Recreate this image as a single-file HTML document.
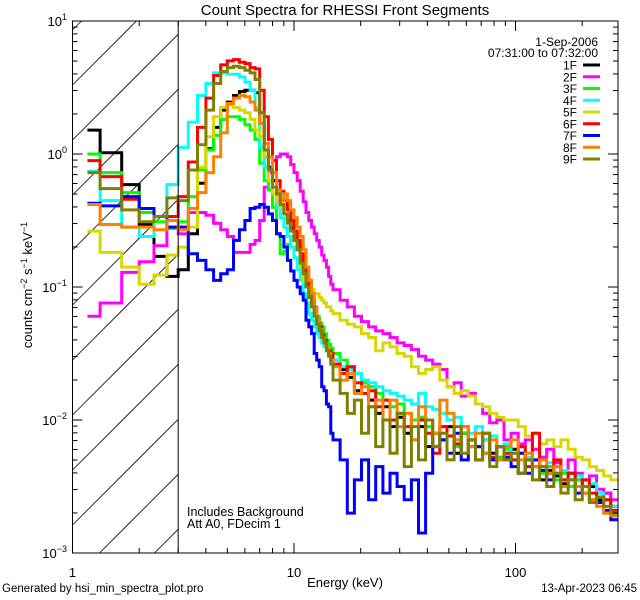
<!DOCTYPE html>
<html><head><meta charset="utf-8">
<style>
html,body{margin:0;padding:0;background:#fff;width:640px;height:600px;overflow:hidden;}
svg{display:block;font-family:"Liberation Sans",sans-serif;overflow:hidden;}
text{fill:#000;}
</style></head>
<body>
<svg id="chart" width="640" height="600" viewBox="0 0 640 600">
<rect x="0" y="0" width="640" height="600" fill="#fff"/>
<text x="345" y="15" font-size="15" text-anchor="middle">Count Spectra for RHESSI Front Segments</text>
<g id="hatch"></g>
<g id="series"></g>
<g id="axes"></g>
<text x="32" y="285" font-size="13" text-anchor="middle" transform="rotate(-90 32 285)">counts cm<tspan dy="-5" font-size="9">−2</tspan><tspan dy="5"> s</tspan><tspan dy="-5" font-size="9">−1</tspan><tspan dy="5"> keV</tspan><tspan dy="-5" font-size="9">−1</tspan></text>
<text x="345" y="587" font-size="13" text-anchor="middle">Energy (keV)</text>
<text x="2" y="592" font-size="11.5">Generated by hsi_min_spectra_plot.pro</text>
<text x="637" y="592" font-size="11.5" text-anchor="end">13-Apr-2023 06:45</text>
<text x="187" y="516" font-size="12.5">Includes Background</text>
<text x="187" y="528" font-size="12.5">Att A0, FDecim 1</text>
<text x="598" y="46" font-size="12" text-anchor="end">1-Sep-2006</text>
<text x="598" y="57" font-size="12" text-anchor="end">07:31:00 to 07:32:00</text>
<g id="legend"></g>
</svg>
<script>
// ---- data (log10 of counts cm^-2 s^-1 keV^-1) ----
const segments = ["1F","2F","3F","4F","5F","6F","7F","8F","9F"];
const colors = ["#000000","#ff00ff","#00ff00","#00ffff","#d8d800","#ff0000","#0000ff","#ff8000","#808000"];
const lowEdges = [1.167,1.333,1.667,2,2.333,2.667,3];
const midStart = 3, midEnd = 15, midStep = 1/3;
const highStart = 15, highEnd = 290, highBins = 40;

const log1F = [0.18,0.01,-0.23,-0.53,-0.77,-0.92,
 -0.87,-0.6,-0.22,0.04,0.2,0.33,0.39,0.44,0.47,0.48,0.48,0.46,
 0.23,0.03,-0.1,-0.2,-0.3,-0.38,-0.45,-0.5,-0.56,-0.62,-0.68,-0.76,-0.85,-0.93,-1.0,-1.08,-1.16,-1.24,-1.3,-1.35,-1.4,-1.45,-1.5,-1.55,
 -1.55,-1.62,-1.68,-1.78,-1.72,-1.85,-1.95,-1.9,-2.05,-1.98,-2.1,-2.0,-2.05,-2.2,-2.1,-2.15,-2.05,-2.25,-2.1,-2.2,-2.3,-2.15,-2.25,-2.2,-2.28,-2.22,-2.4,-2.3,-2.35,-2.45,-2.38,-2.42,-2.48,-2.4,-2.45,-2.55,-2.5,-2.6,-2.55,-2.65];
const log2F = [-1.22,-1.12,-0.89,-0.81,-0.69,-0.55,
 -0.6,-0.44,-0.44,-0.46,-0.52,-0.57,-0.62,-0.74,-0.74,-0.74,-0.68,-0.65,
 -0.5,-0.25,-0.14,-0.05,-0.02,0.0,0.0,-0.02,-0.08,-0.14,-0.2,-0.28,-0.36,-0.44,-0.5,-0.55,-0.6,-0.65,-0.7,-0.76,-0.8,-0.85,-0.92,-0.98,
 -1.02,-1.1,-1.15,-1.22,-1.26,-1.3,-1.33,-1.35,-1.38,-1.42,-1.44,-1.47,-1.52,-1.55,-1.58,-1.62,-1.75,-1.72,-1.82,-1.8,-1.88,-1.95,-2.02,-2.0,-2.15,-2.1,-2.18,-2.15,-2.22,-2.28,-2.22,-2.32,-2.38,-2.3,-2.4,-2.45,-2.42,-2.52,-2.55,-2.6];
const log3F = [0.0,-0.14,-0.29,-0.44,-0.51,-0.56,
 -0.51,-0.32,-0.12,0.03,0.14,0.26,0.28,0.28,0.26,0.22,0.18,0.11,
 -0.07,-0.2,-0.27,-0.4,-0.6,-0.75,-0.73,-0.68,-0.62,-0.65,-0.7,-0.78,-0.86,-0.95,-1.02,-1.1,-1.17,-1.22,-1.27,-1.3,-1.35,-1.4,-1.43,-1.46,
 -1.5,-1.55,-1.6,-1.65,-1.72,-1.75,-1.8,-1.85,-1.9,-1.88,-1.95,-2.0,-1.98,-2.05,-2.1,-2.05,-2.12,-2.2,-2.1,-2.15,-2.2,-2.25,-2.15,-2.28,-2.22,-2.3,-2.25,-2.35,-2.3,-2.4,-2.35,-2.45,-2.4,-2.5,-2.45,-2.55,-2.6,-2.58,-2.7,-2.72];
const log4F = [-0.13,-0.35,-0.55,-0.62,-0.47,-0.23,
 0.05,0.24,0.44,0.53,0.61,0.61,0.6,0.6,0.58,0.54,0.48,0.35,
 0.05,-0.1,-0.2,-0.3,-0.4,-0.48,-0.55,-0.62,-0.7,-0.78,-0.87,-0.95,-1.05,-1.12,-1.2,-1.25,-1.3,-1.35,-1.38,-1.42,-1.45,-1.48,-1.5,-1.52,
 -1.55,-1.6,-1.62,-1.65,-1.7,-1.72,-1.75,-1.78,-1.8,-1.82,-1.85,-1.88,-1.8,-1.9,-1.92,-1.95,-2.0,-1.98,-2.05,-2.1,-2.05,-2.15,-2.12,-2.2,-2.18,-2.25,-2.2,-2.28,-2.3,-2.35,-2.32,-2.4,-2.38,-2.45,-2.42,-2.5,-2.48,-2.55,-2.6,-2.65];
const log5F = [-0.58,-0.74,-0.85,-0.98,-0.91,-0.76,
 -0.7,-0.55,-0.1,0.13,0.28,0.35,0.37,0.35,0.33,0.31,0.26,0.18,
 0.13,-0.02,-0.2,-0.3,-0.36,-0.4,-0.45,-0.48,-0.52,-0.6,-0.72,-0.85,-0.95,-1.0,-0.98,-1.02,-1.05,-1.05,-1.08,-1.1,-1.12,-1.15,-1.15,-1.18,
 -1.2,-1.25,-1.28,-1.3,-1.35,-1.38,-1.48,-1.42,-1.45,-1.5,-1.52,-1.6,-1.65,-1.62,-1.6,-1.7,-1.75,-1.8,-1.78,-1.82,-1.88,-1.9,-1.95,-1.98,-2.0,-2.0,-2.05,-2.12,-2.1,-2.18,-2.15,-2.2,-2.15,-2.22,-2.28,-2.3,-2.35,-2.38,-2.42,-2.45];
const log6F = [-0.05,-0.17,-0.34,-0.41,-0.47,-0.47,
 -0.32,-0.06,0.2,0.42,0.59,0.67,0.7,0.71,0.69,0.68,0.65,0.64,
 0.48,0.28,0.11,-0.05,-0.2,-0.28,-0.35,-0.42,-0.5,-0.58,-0.65,-0.75,-0.85,-0.95,-1.03,-1.1,-1.18,-1.25,-1.3,-1.36,-1.4,-1.45,-1.48,-1.5,
 -1.58,-1.65,-1.6,-1.72,-1.8,-1.78,-1.9,-1.85,-2.0,-1.95,-2.05,-2.15,-2.0,-2.1,-2.25,-2.05,-2.12,-2.18,-2.05,-2.15,-2.2,-2.1,-2.28,-2.2,-2.25,-2.3,-2.2,-2.35,-2.1,-2.35,-2.4,-2.3,-2.45,-2.4,-2.5,-2.45,-2.55,-2.58,-2.6,-2.68];
const log7F = [-0.37,-0.39,-0.32,-0.41,-0.47,-0.55,
 -0.55,-0.75,-0.8,-0.87,-0.95,-0.9,-0.87,-0.65,-0.57,-0.5,-0.41,-0.4,
 -0.38,-0.4,-0.45,-0.5,-0.6,-0.62,-0.7,-0.8,-0.88,-0.95,-1.0,-1.05,-1.1,-1.25,-1.3,-1.35,-1.5,-1.55,-1.6,-1.75,-1.78,-1.88,-1.9,-2.1,
 -2.15,-2.3,-2.7,-2.45,-2.3,-2.6,-2.35,-2.55,-2.4,-2.5,-2.6,-2.45,-2.85,-2.4,-2.2,-2.15,-2.25,-2.1,-2.3,-2.15,-2.2,-2.25,-2.3,-2.2,-2.28,-2.35,-2.25,-2.4,-2.3,-2.38,-2.45,-2.35,-2.5,-2.45,-2.55,-2.5,-2.6,-2.62,-2.68,-2.75];
const log8F = [-0.38,-0.53,-0.55,-0.55,-0.57,-0.5,
 -0.57,-0.41,-0.29,-0.14,-0.02,0.16,0.38,0.42,0.44,0.43,0.39,0.33,
 0.23,0.08,-0.02,-0.14,-0.27,-0.35,-0.3,-0.35,-0.42,-0.48,-0.55,-0.62,-0.72,-0.85,-0.95,-1.05,-1.15,-1.25,-1.32,-1.38,-1.42,-1.45,-1.5,-1.55,
 -1.6,-1.7,-1.65,-1.8,-1.75,-1.9,-1.85,-2.0,-1.85,-2.05,-1.95,-2.15,-1.9,-2.0,-2.1,-1.85,-1.95,-2.15,-2.05,-2.2,-2.1,-2.25,-2.15,-2.3,-2.2,-2.15,-2.3,-2.25,-2.35,-2.3,-2.4,-2.35,-2.5,-2.45,-2.5,-2.55,-2.6,-2.65,-2.7,-2.72];
const log9F = [-0.14,-0.26,-0.42,-0.51,-0.47,-0.33,
 -0.35,-0.12,0.07,0.33,0.53,0.62,0.65,0.66,0.65,0.63,0.61,0.56,
 0.31,0.03,-0.12,-0.25,-0.3,-0.38,-0.45,-0.52,-0.58,-0.65,-0.72,-0.82,-0.9,-1.0,-1.08,-1.15,-1.22,-1.28,-1.33,-1.38,-1.42,-1.48,-1.52,-1.58,
 -1.7,-1.8,-1.95,-1.85,-2.1,-1.9,-2.2,-2.0,-2.25,-1.95,-2.35,-2.05,-2.3,-2.0,-2.2,-2.1,-2.3,-2.05,-2.25,-2.15,-2.3,-2.1,-2.35,-2.2,-2.3,-2.25,-2.4,-2.3,-2.45,-2.35,-2.5,-2.4,-2.55,-2.45,-2.6,-2.5,-2.62,-2.58,-2.65,-2.7];
const seriesLogs = [log1F,log2F,log3F,log4F,log5F,log6F,log7F,log8F,log9F];
const xTickLabels = ["1","10","100"];
const yTickExponents = ["1","0","−1","−2","−3"];

// ---- geometry ----
const NS = "http://www.w3.org/2000/svg";
const L = 72.5, R = 618, T = 21, B = 553;
const xMin = 1, xMax = Math.pow(10, (R - L) / 221.5);
const yMinLog = -3, yMaxLog = 1;
function xs(e){ return L + (Math.log10(e) - Math.log10(xMin)) / (Math.log10(xMax) - Math.log10(xMin)) * (R - L); }
function ys(lv){ return B - (lv - yMinLog) / (yMaxLog - yMinLog) * (B - T); }
function mk(tag, attrs, parent){ const el = document.createElementNS(NS, tag); for (const k in attrs) el.setAttribute(k, attrs[k]); parent.appendChild(el); return el; }

const edges = lowEdges.slice();
for (let k = 1; k <= Math.round((midEnd - midStart) / midStep); k++) edges.push(midStart + k * midStep);
const ratio = Math.pow(highEnd / highStart, 1 / highBins);
for (let k = 1; k <= highBins; k++) edges.push(highStart * Math.pow(ratio, k));

const svg = document.getElementById('chart');
const defs = mk('defs', {}, svg);
const cp = mk('clipPath', {id: 'plotclip'}, defs);
mk('rect', {x: L, y: T, width: R - L, height: B - T}, cp);

// hatch lines computed inside the 1-3 keV box (no overflow)
const hatch = document.getElementById('hatch');
const hx1 = xs(3);
for (let k = -2; k < 14; k++) {
  const y0 = 85 + 55 * k; // y at x = L
  const xa = Math.max(L, L + (y0 - B));
  const xb = Math.min(hx1, L + (y0 - T));
  if (xb <= xa) continue;
  const ln = mk('line', {x1: xa, y1: y0 - (xa - L), x2: xb, y2: y0 - (xb - L), stroke: '#000', 'stroke-width': 0.8}, hatch);
  
  
}
const vl = mk('line', {x1: hx1, y1: T, x2: hx1, y2: B, stroke: '#000', 'stroke-width': 1}, hatch.parentNode);



const sg = document.getElementById('series');
sg.setAttribute('clip-path', 'url(#plotclip)');
seriesLogs.forEach((vals, si) => {
  let d = '';
  for (let i = 0; i < vals.length && i < edges.length - 1; i++) {
    const x0 = xs(edges[i]), x1 = Math.min(R, xs(edges[i + 1])), y = ys(vals[i]);
    d += (i === 0 ? 'M' : 'L') + x0.toFixed(1) + ',' + y.toFixed(1) + 'L' + x1.toFixed(1) + ',' + y.toFixed(1);
  }
  const p = mk('path', {d: d, fill: 'none', stroke: colors[si], 'stroke-width': 3, 'stroke-linejoin': 'miter'}, sg);
  
  
});

const ax = document.getElementById('axes');
const frame = mk('rect', {x: L, y: T, width: R - L, height: B - T, fill: 'none', stroke: '#000', 'stroke-width': 1}, ax);


for (let dec = 0; dec <= 2; dec++) {
  for (let m = 1; m <= 9; m++) {
    const e = m * Math.pow(10, dec);
    if (e > xMax) break;
    const x = xs(e), len = m === 1 ? 10 : 5;
    const t1 = mk('line', {x1: x, y1: B, x2: x, y2: B - len, stroke: '#000', 'stroke-width': 1}, ax);
    
    
    const t2 = mk('line', {x1: x, y1: T, x2: x, y2: T + len, stroke: '#000', 'stroke-width': 1}, ax);
    
    
  }
}
xTickLabels.forEach((lab, i) => {
  const t = mk('text', {x: xs(Math.pow(10, i)), y: 577, 'font-size': 13, 'text-anchor': 'middle'}, ax);
  t.textContent = lab;
  
  
});
for (let dec = -3; dec <= 0; dec++) {
  for (let m = 1; m <= 9; m++) {
    const y = ys(dec + Math.log10(m)), len = m === 1 ? 10 : 5;
    const t1 = mk('line', {x1: L, y1: y, x2: L + len, y2: y, stroke: '#000', 'stroke-width': 1}, ax);
    
    
    const t2 = mk('line', {x1: R, y1: y, x2: R - len, y2: y, stroke: '#000', 'stroke-width': 1}, ax);
    
    
  }
}
yTickExponents.forEach((ex, i) => {
  const y = ys(yMaxLog - i);
  const t = mk('text', {x: 67, y: y + 5, 'font-size': 13, 'text-anchor': 'end'}, ax);
  t.textContent = '10';
  const sp = mk('tspan', {dy: -6, 'font-size': 9}, t);
  sp.textContent = ex;
  
  
});

const lg = document.getElementById('legend');
segments.forEach((s, i) => {
  const y = 65 + i * 11.75;
  const g = mk('g', {}, lg);
  
  
  const t = mk('text', {x: 577, y: y + 4.5, 'font-size': 12, 'text-anchor': 'end'}, g);
  t.textContent = s;
  mk('line', {x1: 583, y1: y, x2: 600, y2: y, stroke: colors[i], 'stroke-width': 3}, g);
});
</script>
</body></html>
